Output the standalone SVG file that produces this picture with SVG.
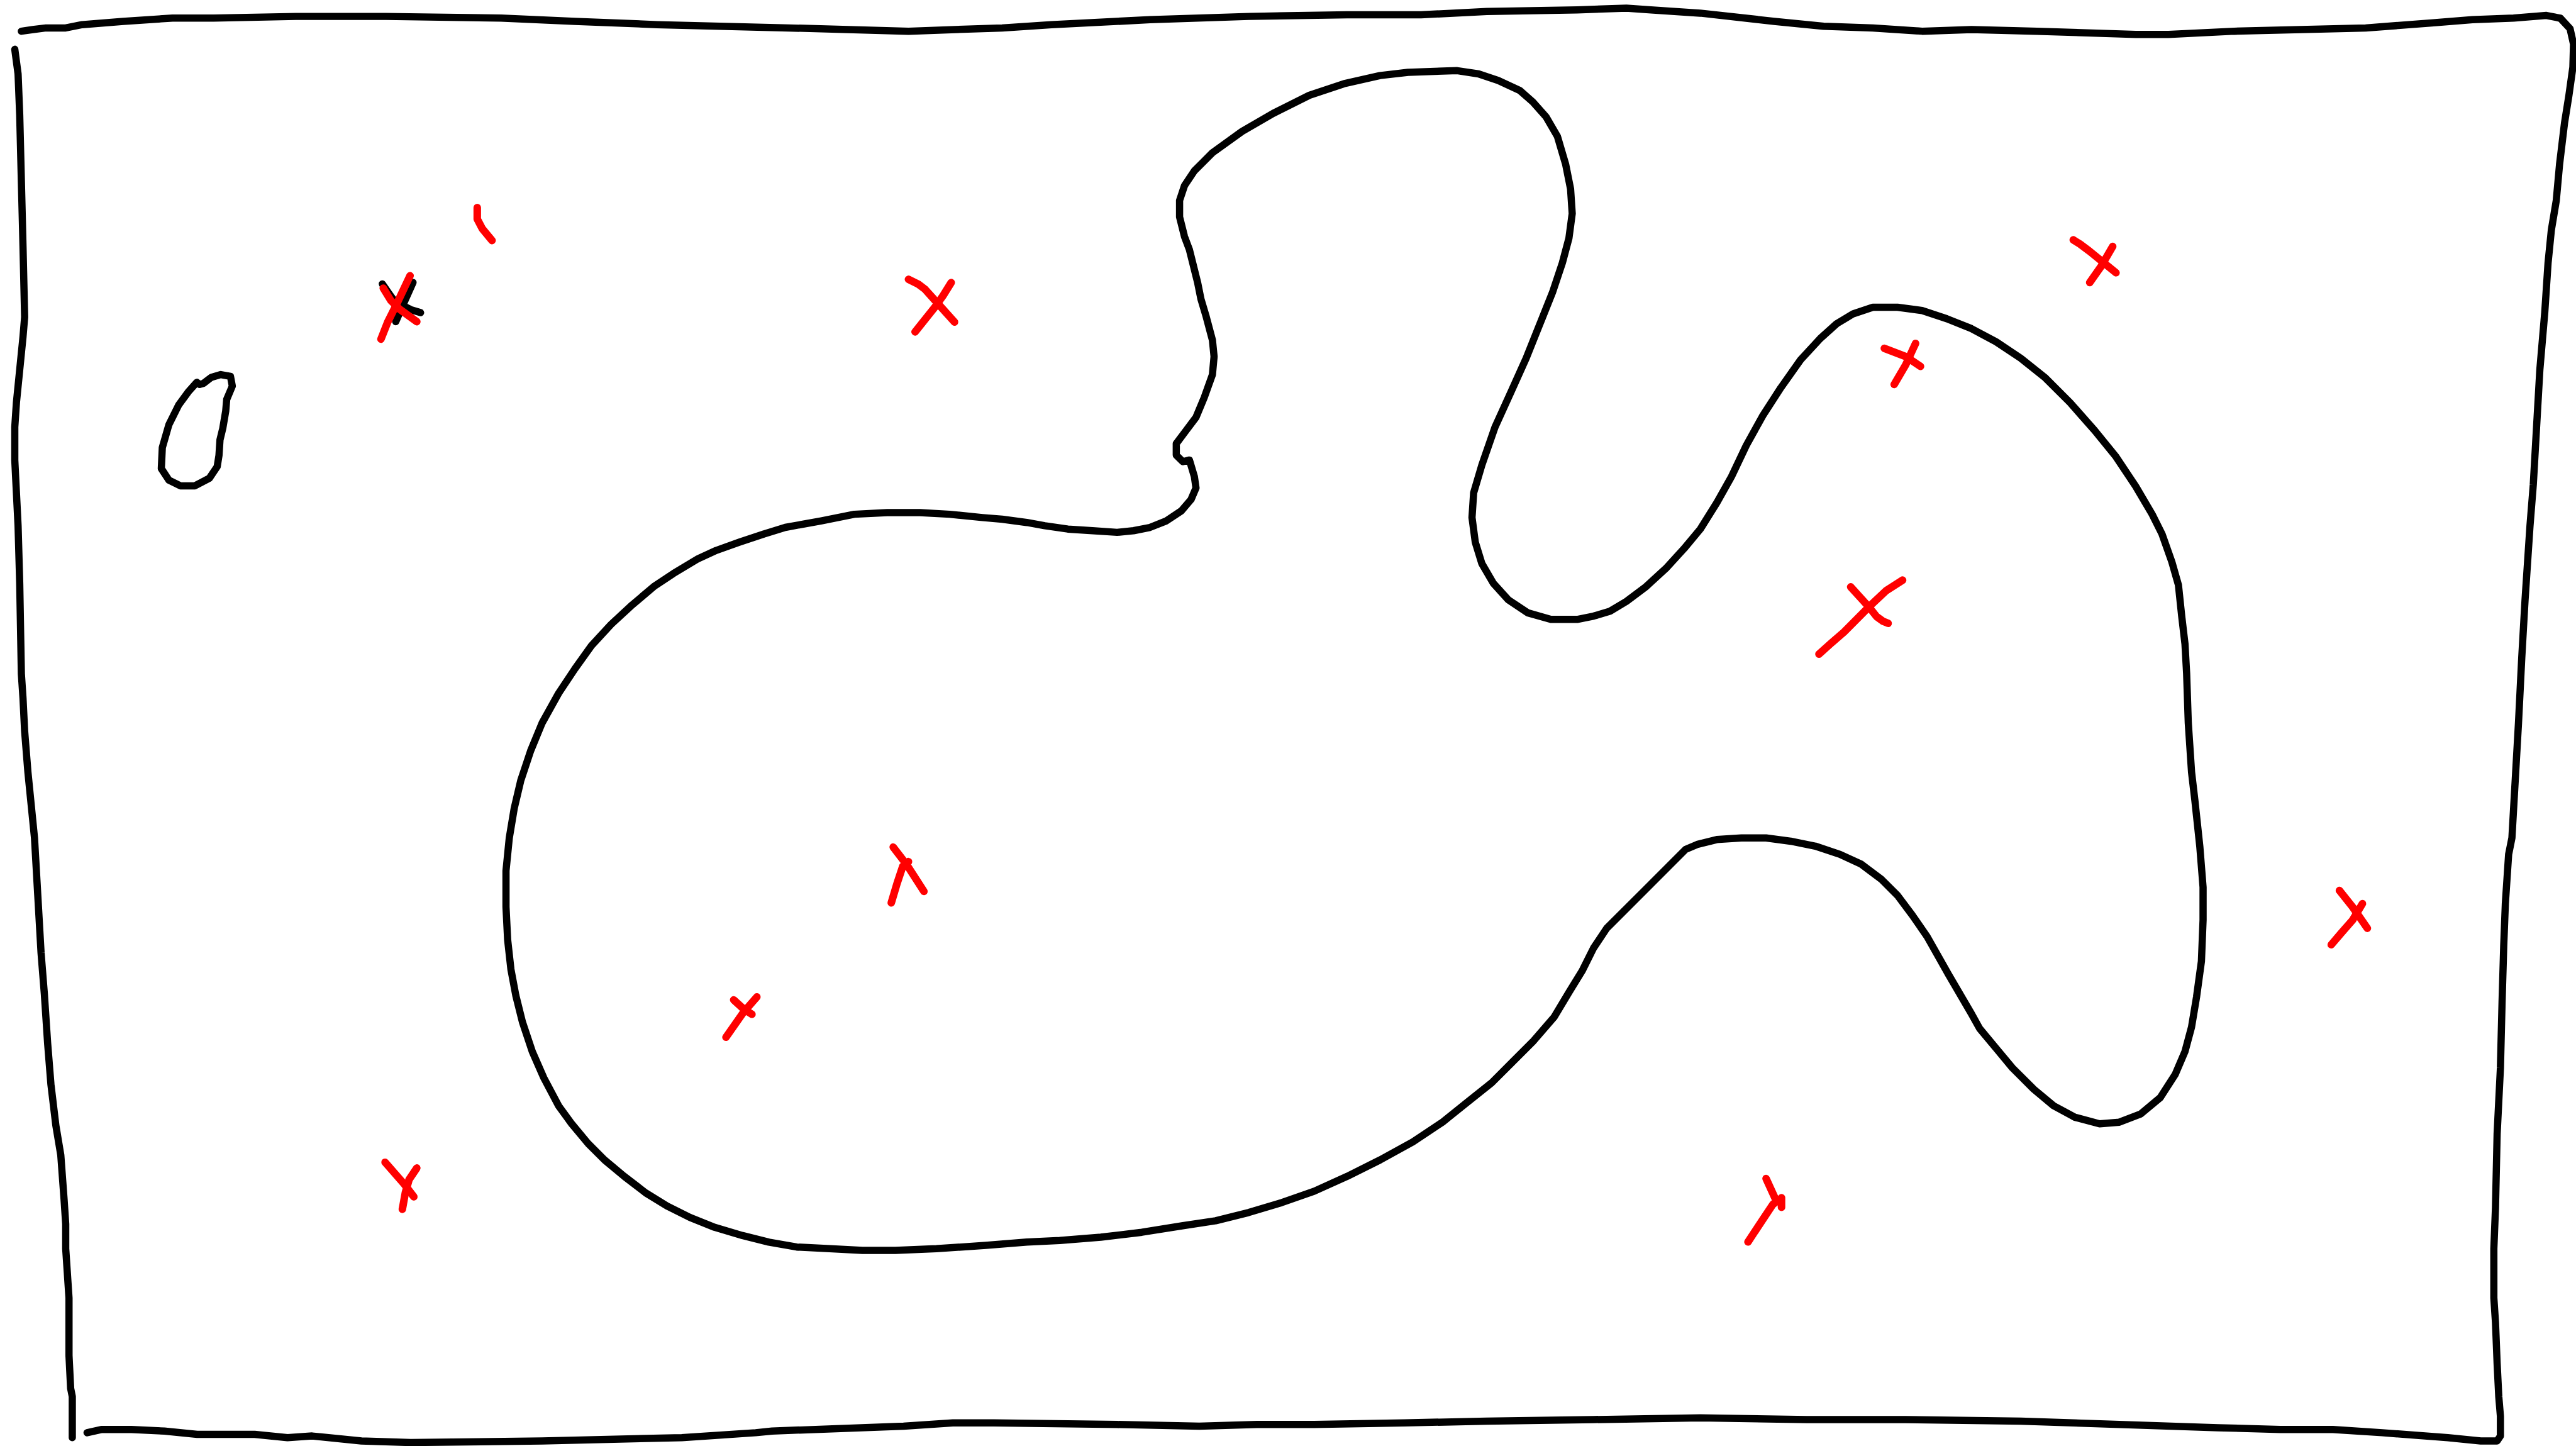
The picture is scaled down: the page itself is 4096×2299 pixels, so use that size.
<svg xmlns="http://www.w3.org/2000/svg" width="4096" height="2299" viewBox="0 0 4096 2299">
<style>
.k{fill:none;stroke:#000;stroke-width:4.4;stroke-linecap:round;stroke-linejoin:round}
.r{fill:none;stroke:#ff0000;stroke-width:4.6;stroke-linecap:round;stroke-linejoin:round}
</style>
<rect width="4096" height="2299" fill="#fff"/>
<g transform="scale(2.61224)">
<g id="border">
<polyline class="k" points="13,19 20,18 28,17 40,17 50,15 75,13 105,11 130,11 180,10 235,10 305,11 350,13 400,15 480,17 553,19 610,17 640,15 700,12 760,10 820,9 865,9 905,7 960,6 990,5 1005,6 1035,8 1080,13 1110,16 1140,17 1170,19 1200,18 1240,19 1270,20 1300,21 1320,21 1360,19 1440,17 1480,14 1505,12 1530,11 1550,9.4 1558.5,11.1 1564.4,17.5 1566.5,26.9 1566.1,40.9 1563.7,58 1561,75 1558,100 1556,122 1553,140 1551,160 1549,190 1546,225 1544,260 1542,295 1540,320 1537,365 1535,400 1533,440 1531,475 1529,510 1527,520 1525,550 1524,576 1523,610 1522,650 1520,690 1519,735 1518,760 1518,790 1519,805 1520,830 1521,850 1522,862 1522,874 1520,877 1510,877 1490,875 1450,872 1420,870 1388,870 1350,869 1290,867 1230,865 1160,864 1100,864 1035,863 970,864 905,865 855,866 800,867 765,867 730,868 680,867 605,866 580,866 550,868 470,871 460,872 415,875 330,877 250,878 220,877 190,874 175,875 155,873 130,873 120,873 100,871 80,870 62,870 53,872"/>
<polyline class="k" points="9,30 11,45 12,70 13,110 14,150 15,193 14,205 12,225 10,245 9,260 9,280 10,300 11,320 12,355 13,410 14,425 15,445 17,470 19,490 21,510 23,545 25,580 27,605 29,635 31,660 34,685 37,703 39,730 40,745 40,760 41,775 42,790 42,825 43,845 44,850 44,875"/>
</g>
<g id="blob">
<polyline class="k" points="724,280 727,290 728,297 725,304 719,311 710,317 700,321 690,323 680,324 665,323 650,322 636,320 625,318 610,316 598,315 578,313 560,312 540,312 520,313 500,317 478,321 465,325 450,330 436,335 425,340 410,349 398,357 385,368 372,380 360,393 350,407 340,422 330,440 323,457 317,475 313,492 310,510 308,530 308,552 309,572 311,590 314,606 318,622 324,640 331,656 340,673 348,684 358,696 368,706 380,716 393,726 406,734 420,741 435,747 452,752 468,756 485,759 505,760 525,761 545,761 570,760 600,758 625,756 645,755 670,753 695,750 720,746 740,743 760,738 780,732 800,725 820,716 840,706 860,695 878,683 893,671 908,659 920,647 933,634 946,619 955,604 963,591 970,577 978,565 1000,543 1026,517 1033,514 1045,511 1060,510 1075,510 1090,512 1105,515 1120,520 1133,526 1145,535 1155,545 1164,557 1173,570 1186,593 1200,617 1205,626 1215,638 1225,650 1238,663 1250,673 1263,680 1278,684 1290,683 1303,678 1315,668 1324,654 1330,640 1334,625 1337,607 1340,585 1341,560 1341,540 1339,515 1336,487 1334,470 1332,440 1331,410 1330,392 1328,375 1326,356 1322,342 1316,325 1310,313 1300,296 1288,278 1275,262 1260,245 1245,230 1230,218 1215,208 1200,200 1185,194 1170,189 1155,187 1140,187 1128,191 1118,197 1108,206 1096,219 1084,236 1073,253 1063,271 1054,290 1045,306 1035,322 1025,334 1014,346 1002,357 990,366 980,372 970,375 960,377 944,377 930,373 918,365 909,355 902,343 898,330 896,315 897,300 902,283 910,260 920,238 929,218 937,198 945,178 951,160 955,145 957,130 956,115 953,100 948,83 941,71 933,62 925,55 912,49 900,45 887,43 857,44 840,46 818,51 797,58 775,69 756,80 738,93 727,104 721,113 718,122 718,132 721,144 724,152 729,172 731,182 734,192 738,207 739,217 738,228 733,242 728,254 722,262 716,270 716,277 720,281 724,280"/>
</g>
<g id="oval">
<polyline class="k" points="119.8,232.7 114.6,238.5 108.7,246.6 102.8,258.5 98.8,272.4 98.2,285.2 102.8,292.2 109.8,295.7 118.6,295.7 127.4,291.1 132.2,284 133.3,277.1 133.9,267.7 135.6,260.7 137.4,250.2 138,243.1 141.4,235 140.3,229.1 134.4,228 128.6,229.7 123.9,233.3 121.5,234 119.8,232.7"/>
</g>
<g id="black-marks">
<polyline class="k" points="232.7,172.8 237,179 242,185.9"/>
<polyline class="k" points="251.4,171.9 246,184 240.9,195.8"/>
<polyline class="k" points="245,185.9 250.2,188.5 256,190.3"/>
</g>
<g id="red-marks">
<g id="x1"><polyline class="r" points="249.6,167.8 241,186 236,196 231.9,206.4"/><polyline class="r" points="233.3,175.4 238,183 243,188 253.7,195.8"/></g>
<polyline id="arc" class="r" points="290.5,126.3 290.5,133.3 293.5,139.1 299.5,146.4"/>
<g id="x2"><polyline class="r" points="553,170 559,173 563,176 572,186 581,196"/><polyline class="r" points="579,172 574,180 569,187 557,202"/></g>
<g id="x3"><polyline class="r" points="1262,146 1266,148.5 1272,153 1288,166"/><polyline class="r" points="1286,150 1279,162 1272,172"/></g>
<g id="x4"><polyline class="r" points="1147,212 1160,217 1169,223"/><polyline class="r" points="1166,209 1160,222 1153,234"/></g>
<g id="x5"><polyline class="r" points="1126.5,357.2 1137.6,369.4 1142.3,375.3 1146,378 1149.3,379.4"/><polyline class="r" points="1158.1,353.1 1148.1,359.5 1137.6,369.4 1122.4,384.7 1114,392 1107.2,398.1"/></g>
<g id="x6"><polyline class="r" points="1424,542 1432,552 1441,565"/><polyline class="r" points="1438,550 1432,560 1425,568 1419,575"/></g>
<g id="x7"><polyline class="r" points="543.7,515.6 551.8,526.1 562.4,542.5"/><polyline class="r" points="553,524.4 549.5,527.3 546,537.8 542.5,549.5"/></g>
<g id="x8"><polyline class="r" points="446.6,608.6 453,614.4 457.7,617.3"/><polyline class="r" points="460.7,606.8 452.5,616.2 441.9,631.3"/></g>
<g id="x9"><polyline class="r" points="234.4,707.4 246.1,720.8 251.9,728.4"/><polyline class="r" points="253.7,710.9 249,717.9 246.7,726.1 244.9,736"/></g>
<g id="x10"><polyline class="r" points="1075,717.3 1080.9,730.2"/><polyline class="r" points="1084.4,729 1084.4,734.8"/><polyline class="r" points="1082.7,730.2 1079.1,733.1 1069.8,747.1 1064,755.9"/></g>
</g>
</g>
</svg>
